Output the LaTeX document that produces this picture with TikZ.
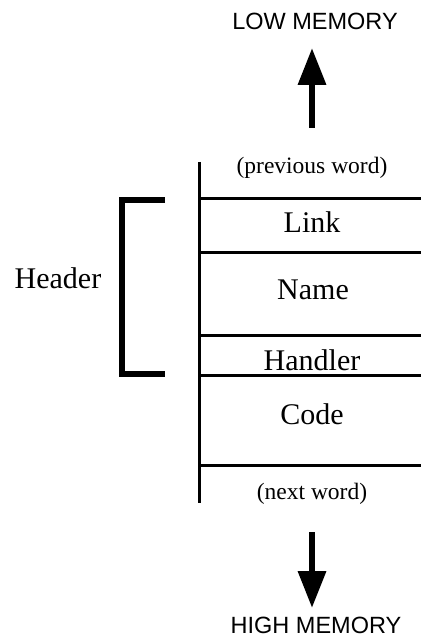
\documentclass[tikz,border=0pt]{standalone}
\usepackage{fontspec}
\setmainfont{Liberation Serif}
\newfontfamily\labelsans{Liberation Sans}
\usetikzlibrary{arrows.meta}
\tikzset{
  rule/.style={line width=3pt},
  bracketline/.style={line width=6pt},
  bigtext/.style={anchor=base, inner sep=0pt, font=\fontsize{30}{36}\selectfont},
  smalltext/.style={anchor=base, inner sep=0pt, font=\fontsize{23.5}{28}\selectfont},
  memtext/.style={anchor=base, inner sep=0pt, font=\labelsans\fontsize{23.5}{28}\selectfont},
  memarrow/.style={line width=6.5pt, -{Triangle[width=27pt,length=37pt]}}
}
\begin{document}
\begin{tikzpicture}[x=1pt,y=-1pt]
\useasboundingbox (0,0) rectangle (421,644);
% memory direction labels
\node[memtext] (low) at (315,30) {LOW MEMORY};
\node[memtext] (high) at (316,633) {HIGH MEMORY};
\coordinate (upbase) at (312,128);
\coordinate (uptip) at (312,48);
\coordinate (downbase) at (312,532);
\coordinate (downtip) at (312,608);
\draw[memarrow] (upbase) -- (uptip);
\draw[memarrow] (downbase) -- (downtip);
% vertical spine
\coordinate (spinetop) at (199,162);
\coordinate (spinebot) at (199,503);
\draw[rule] (spinetop) -- (spinebot);
% horizontal rules
\foreach \yy/\nm in {199/r1,252/r2,335/r3,375/r4,465/r5}{
  \coordinate (\nm a) at (199,\yy);
  \coordinate (\nm b) at (421,\yy);
  \draw[rule] (\nm a) -- (\nm b);
}
% cell labels
\node[smalltext] (prev) at (312,174) {(previous word)};
\node[bigtext] (link) at (312,233) {Link};
\node[bigtext] (name) at (313,299) {Name};
\node[bigtext] (handler) at (312,370) {Handler};
\node[bigtext] (code) at (312,424) {Code};
\node[smalltext] (next) at (312,499) {(next word)};
% header bracket
\coordinate (bta) at (165,200);
\coordinate (btb) at (122,200);
\coordinate (bbb) at (122,374);
\coordinate (bba) at (165,374);
\draw[bracketline, line cap=butt, line join=miter] (bta) -- (btb) -- (bbb) -- (bba);
\node[bigtext] (header) at (58,288) {Header};
\end{tikzpicture}
\end{document}
